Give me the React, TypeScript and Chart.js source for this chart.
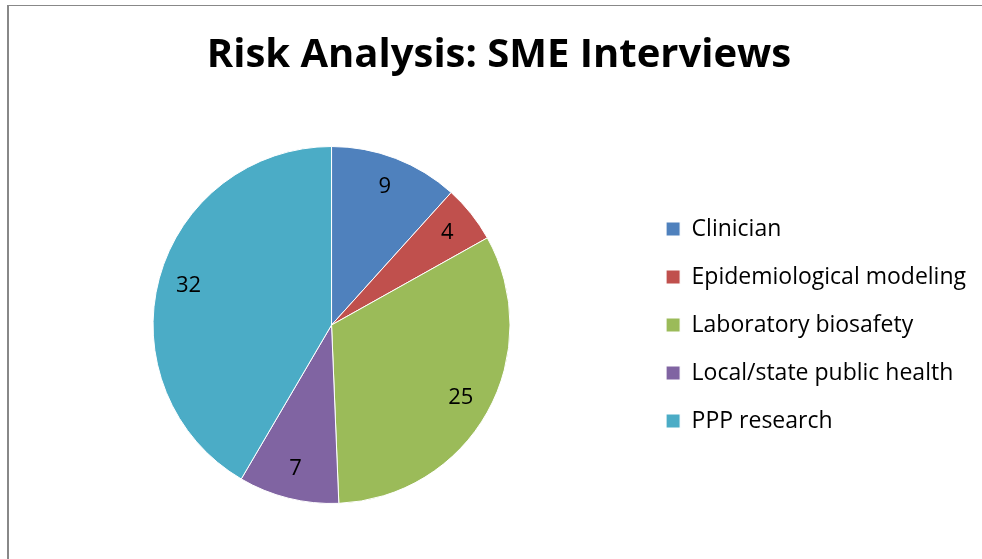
import React, { useEffect, useRef } from "react";
import { Chart, registerables } from "chart.js";

Chart.register(...registerables);

const categories = [
  "Clinician",
  "Epidemiological modeling",
  "Laboratory biosafety",
  "Local/state public health",
  "PPP research",
];
const interviews = [9, 4, 25, 7, 32];
const sliceColors = ["#4F81BD", "#C0504D", "#9BBB59", "#8064A2", "#4BACC6"];
const chartTitle = "Risk Analysis: SME Interviews";

const FONT = "'Open Sans', Lato, sans-serif";

const sliceLabels = {
  id: "sliceLabels",
  afterDatasetsDraw(chart: any) {
    const { ctx } = chart;
    const meta = chart.getDatasetMeta(0);
    const data = chart.data.datasets[0].data as number[];
    ctx.save();
    ctx.font = `22px ${FONT}`;
    ctx.fillStyle = "#000";
    ctx.textAlign = "center";
    ctx.textBaseline = "middle";
    meta.data.forEach((arc: any, i: number) => {
      const p = arc.getProps(["x", "y", "startAngle", "endAngle", "outerRadius"], true);
      const mid = (p.startAngle + p.endAngle) / 2;
      const r = p.outerRadius * 0.83;
      ctx.fillText(String(data[i]), p.x + Math.cos(mid) * r, p.y + Math.sin(mid) * r);
    });
    ctx.restore();
  },
};

export default function App() {
  const ref = useRef<HTMLCanvasElement>(null);
  useEffect(() => {
    if (!ref.current) return;
    const chart = new Chart(ref.current, {
      type: "pie",
      data: {
        labels: categories,
        datasets: [
          {
            data: interviews,
            backgroundColor: sliceColors,
            borderColor: "#ffffff",
            borderWidth: 1,
          },
        ],
      },
      options: {
        responsive: false,
        animation: false,
        layout: { padding: { left: 22, right: 6, top: 10, bottom: 55 } },
        plugins: {
          title: {
            display: true,
            text: chartTitle,
            color: "#000",
            font: { family: FONT, size: 40, weight: "bold" },
            padding: { top: 22, bottom: 66 },
          },
          legend: {
            position: "right",
            fullSize: false,
            labels: {
              color: "#000",
              font: { family: FONT, size: 23 },
              boxWidth: 14,
              boxHeight: 14,
              padding: 25,
            },
          },
          tooltip: { enabled: false },
        },
      },
      plugins: [sliceLabels],
    });
    return () => chart.destroy();
  }, []);
  return (
    <div style={{ position: "fixed", left: 0, top: 0, width: 982, height: 559, background: "#fff" }}>
      <canvas ref={ref} width={982} height={559} style={{ position: "absolute", left: 0, top: 0 }} />
      <div
        style={{
          position: "absolute",
          left: 7,
          top: 5,
          width: 2000,
          height: 2000,
          borderTop: "1px solid #888",
          borderLeft: "2px solid #888",
          pointerEvents: "none",
        }}
      />
    </div>
  );
}
